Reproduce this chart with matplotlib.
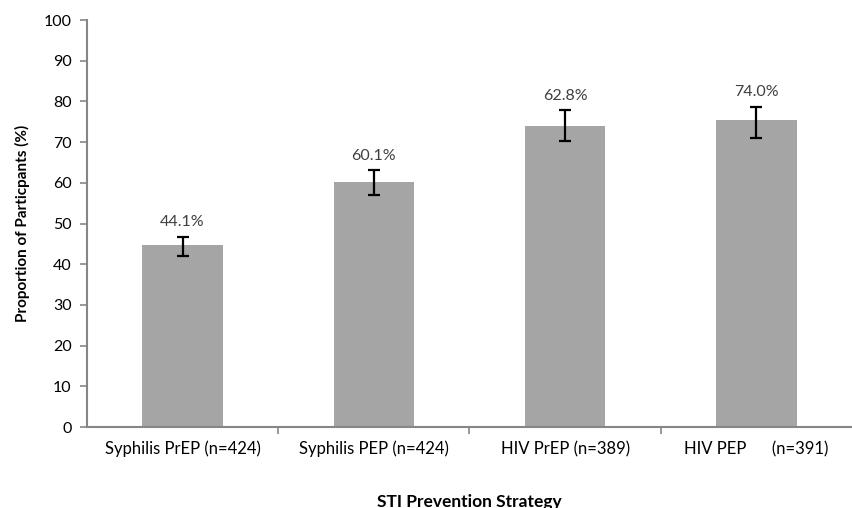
import matplotlib
matplotlib.use("Agg")
import matplotlib.pyplot as plt
import numpy as np

plt.rcParams['font.family'] = ['Lato', 'DejaVu Sans']

# data
categories = ["Syphilis PrEP (n=424)", "Syphilis PEP (n=424)",
              "HIV PrEP (n=389)", "HIV PEP      (n=391)"]
values = [44.6, 60.3, 74.0, 75.4]
err_low = [42.1, 57.0, 70.3, 71.1]
err_high = [46.8, 63.1, 77.9, 78.7]
labels = ["44.1%", "60.1%", "62.8%", "74.0%"]

fig = plt.figure(figsize=(8.52, 5.08), dpi=100)
ax = fig.add_axes([0.102, 0.1594, 0.898, 0.8012])

x = np.arange(len(categories))
vals = np.array(values)
yerr = [vals - np.array(err_low), np.array(err_high) - vals]
ax.bar(x, vals, width=0.42, color='#A5A5A5', zorder=2)
ax.errorbar(x, vals, yerr=yerr, fmt='none', ecolor='black', elinewidth=1.6,
            capsize=4, capthick=1.6, zorder=3)

for xi, hi, lab in zip(x, err_high, labels):
    ax.text(xi, hi + 1.8, lab, ha='center', va='bottom', fontsize=11.5, color='#404040')

ax.set_xlim(-0.5, len(categories) - 0.5)
ax.set_ylim(0, 100)
ax.set_yticks(range(0, 101, 10))
ax.set_xticks(x)
ax.set_xticklabels(categories, fontsize=12)
ax.set_xticks(np.arange(0.5, len(categories) - 1, 1), minor=True)
ax.tick_params(axis='x', which='major', length=0, pad=10)
ax.tick_params(axis='x', which='minor', length=5, color='#868686', width=1.2)
ax.tick_params(axis='y', length=5, color='#868686', width=1.2, labelsize=11.5, pad=6)

for s in ['top', 'right']:
    ax.spines[s].set_visible(False)
for s in ['left', 'bottom']:
    ax.spines[s].set_color('#868686')
    ax.spines[s].set_linewidth(1.5)

ax.set_ylabel("Proportion of Particpants (%)", fontsize=11, fontweight='bold', labelpad=10)
ax.set_xlabel("STI Prevention Strategy", fontsize=12.5, fontweight='bold', labelpad=26)

fig.savefig("out.png", dpi=100)
